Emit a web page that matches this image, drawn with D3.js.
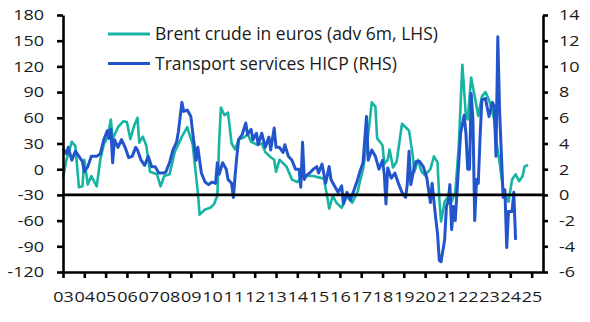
<!DOCTYPE html>
<html>
<head>
<meta charset="utf-8">
<script src="https://cdn.jsdelivr.net/npm/d3@7"></script>
<style>
  html, body { margin: 0; padding: 0; background: #fff; }
  svg { display: block; }
  text { font-family: "Open Sans", "Noto Sans", sans-serif; fill: #1a1a1a; }
</style>
</head>
<body>
<svg id="chart" width="590" height="322"></svg>
<script>
// Brent crude in euros, % y/y, advanced 6 months (left axis)
const brentMonths = ["2003-01","2003-03","2003-06","2003-08","2003-10","2003-12","2004-01","2004-03","2004-05","2004-08","2004-10","2004-12","2005-02","2005-04","2005-05","2005-08","2005-11","2006-01","2006-03","2006-05","2006-07","2006-08","2006-10","2006-12","2007-02","2007-06","2007-08","2007-10","2008-01","2008-04","2008-08","2008-11","2009-02","2009-05","2009-06","2009-09","2009-12","2010-02","2010-04","2010-05","2010-06","2010-08","2010-10","2010-12","2011-02","2011-04","2011-07","2011-09","2011-11","2012-02","2012-05","2012-07","2012-10","2012-12","2013-01","2013-03","2013-07","2013-10","2014-01","2014-04","2014-10","2015-04","2015-06","2015-07","2015-09","2015-11","2016-02","2016-05","2016-08","2016-11","2016-12","2017-02","2017-05","2017-07","2017-09","2017-10","2018-01","2018-02","2018-04","2018-05","2018-07","2018-09","2018-12","2019-02","2019-04","2019-06","2019-07","2019-09","2019-11","2020-01","2020-04","2020-06","2020-08","2020-09","2020-10","2020-12","2021-02","2021-04","2021-06","2021-08","2021-10","2021-12","2022-01","2022-03","2022-05","2022-07","2022-09","2022-11","2023-01","2023-04","2023-05","2023-07","2023-09","2023-11","2023-12","2024-02","2024-04","2024-06","2024-08","2024-09","2024-11"];
const brentValues = [-10,11,32,27,-21,-20,11,-18,-8,-20,11,29,37,58,35,49,56,55,35,50,60,31,38,27,-3,-6,-20,-8,-6,20,38,49,29,-27,-53,-47,-45,-41,-31,31,72,63,66,30,23,35,37,41,32,29,30,20,14,11,-3,11,3,-12,-15,-8,-8,-11,-33,-46,-31,-39,-45,-32,-39,-26,-17,0,41,78,73,36,28,6,11,23,2,9,53,49,45,17,-3,11,-3,-7,0,15,8,-35,-61,-38,-32,-38,-27,27,122,62,58,107,85,62,85,90,81,58,35,8,-24,-33,-38,-12,-6,-14,-8,3,5];

// Transport services HICP, % y/y (right axis)
const hicpMonths = ["2003-01","2003-03","2003-04","2003-06","2003-08","2003-10","2003-12","2004-01","2004-03","2004-05","2004-08","2004-10","2004-12","2005-02","2005-03","2005-04","2005-05","2005-06","2005-08","2005-10","2005-12","2006-01","2006-02","2006-04","2006-06","2006-07","2006-09","2006-11","2007-01","2007-03","2007-05","2007-07","2007-10","2007-11","2008-01","2008-03","2008-05","2008-06","2008-08","2008-09","2008-11","2009-01","2009-02","2009-04","2009-05","2009-07","2009-09","2009-11","2010-01","2010-03","2010-04","2010-05","2010-07","2010-09","2010-10","2010-12","2011-01","2011-02","2011-03","2011-04","2011-06","2011-08","2011-09","2011-11","2011-12","2012-02","2012-03","2012-05","2012-07","2012-09","2012-10","2012-12","2013-01","2013-03","2013-05","2013-06","2013-08","2013-10","2013-12","2014-02","2014-03","2014-04","2014-05","2014-06","2014-08","2014-10","2014-12","2015-01","2015-03","2015-05","2015-07","2015-08","2015-10","2015-12","2016-02","2016-03","2016-05","2016-07","2016-09","2016-11","2016-12","2017-02","2017-04","2017-05","2017-07","2017-09","2017-11","2018-01","2018-02","2018-03","2018-04","2018-06","2018-08","2018-10","2018-12","2019-02","2019-03","2019-04","2019-05","2019-07","2019-08","2019-10","2019-12","2020-02","2020-04","2020-05","2020-07","2020-08","2020-09","2020-10","2020-12","2021-01","2021-02","2021-03","2021-04","2021-05","2021-06","2021-07","2021-09","2021-11","2021-12","2022-01","2022-02","2022-03","2022-04","2022-05","2022-06","2022-07","2022-08","2022-09","2022-11","2023-01","2023-03","2023-04","2023-05","2023-06","2023-07","2023-09","2023-10","2023-11","2023-12","2024-02","2024-03","2024-04"];
const hicpValues = [3.6,3.2,3.7,2.7,3.4,3.0,2.6,1.8,2.2,3.0,3.0,3.2,4.3,5.0,4.4,5.1,2.5,4.3,3.7,4.3,3.7,3.3,2.9,3.0,3.7,3.5,2.7,2.3,3.0,2.2,2.2,1.7,1.7,1.8,2.5,3.5,4.1,4.9,7.2,6.5,6.6,6.1,4.9,2.7,3.7,1.7,1.0,0.8,1.0,0.9,2.5,1.6,2.5,2.0,1.2,0.9,-0.2,1.6,3.0,4.3,4.7,5.6,4.7,5.1,4.3,4.8,3.9,4.8,3.7,4.5,3.5,5.2,3.7,3.7,3.3,3.9,3.0,2.7,2.0,2.0,0.6,4.1,1.2,1.5,1.7,2.0,2.2,1.7,2.4,0.9,2.2,1.2,0.7,0.2,0.7,-0.7,0.2,-0.4,0.4,1.2,1.7,2.5,6.1,2.7,3.5,3.0,2.0,2.7,1.6,-0.7,2.1,1.3,1.7,0.9,0.2,-0.2,0.8,3.4,0.8,2.2,2.6,2.6,2.2,1.3,-0.6,0.9,-1.8,-3.0,-5.1,-5.2,-3.5,-0.9,-0.5,0.8,-2.7,-0.9,-2.0,0.2,4.8,6.2,4.8,2.0,2.0,7.9,5.8,-2.0,1.2,0.9,4.5,7.4,7.5,6.1,7.2,6.9,3.0,12.3,6.6,-0.2,0.4,-4.1,-1.3,-1.3,0.2,-3.5];

// Axis ticks
const leftTicks = [-120, -90, -60, -30, 0, 30, 60, 90, 120, 150, 180];
const rightTicks = [-6, -4, -2, 0, 2, 4, 6, 8, 10, 12, 14];
const yearTicks = d3.range(2003, 2026);

const seriesNames = ["Brent crude in euros (adv 6m, LHS)", "Transport services HICP (RHS)"];
const colors = { brent: "#17b4a3", hicp: "#2254cb" };

const parseMonth = d3.timeParse("%Y-%m");
const brent = brentMonths.map((m, i) => ({ date: parseMonth(m), value: brentValues[i] }));
const hicp = hicpMonths.map((m, i) => ({ date: parseMonth(m), value: hicpValues[i] }));

const plot = { left: 63, right: 543, top: 15, bottom: 272 };

const x = d3.scaleTime()
  .domain([new Date(2003, 0, 1), new Date(2025, 6, 15)])
  .range([plot.left, plot.right]);
const yL = d3.scaleLinear().domain([-120, 180]).range([plot.bottom, plot.top]);
const yR = d3.scaleLinear().domain([-6, 14]).range([plot.bottom, plot.top]);

const svg = d3.select("#chart");

// Series lines
const lineL = d3.line().x(d => x(d.date)).y(d => yL(d.value));
const lineR = d3.line().x(d => x(d.date)).y(d => yR(d.value));

svg.append("path").datum(brent)
  .attr("fill", "none").attr("stroke", colors.brent)
  .attr("stroke-width", 2.6).attr("stroke-linejoin", "round")
  .attr("d", lineL);

svg.append("path").datum(hicp)
  .attr("fill", "none").attr("stroke", colors.hicp)
  .attr("stroke-width", 3).attr("stroke-linejoin", "round")
  .attr("d", lineR);

// Zero line of the right-hand scale
svg.append("line")
  .attr("x1", plot.left).attr("x2", plot.right)
  .attr("y1", yR(0)).attr("y2", yR(0))
  .attr("stroke", "#000").attr("stroke-width", 2.8);

// Tick labels use a slightly widened face
const labelStretch = 1.2;
function styleAxis(g) {
  g.select(".domain").attr("stroke", "#000").attr("stroke-width", 2.6);
  g.selectAll(".tick line").attr("stroke", "#000").attr("stroke-width", 2.6);
  g.selectAll(".tick text")
    .attr("font-size", 15).attr("fill", "#1a1a1a")
    .attr("font-family", "'Open Sans', 'Noto Sans', sans-serif")
    .each(function () {
      const t = d3.select(this);
      const tx = +t.attr("x") || 0;
      t.attr("x", tx / labelStretch).attr("transform", `scale(${labelStretch},1)`);
    });
}

// Left axis
svg.append("g")
  .attr("transform", `translate(${plot.left},0)`)
  .call(d3.axisLeft(yL).tickValues(leftTicks).tickSize(6).tickSizeOuter(0).tickPadding(13)
    .tickFormat(d => String(d)))
  .call(styleAxis);

// Right axis
svg.append("g")
  .attr("transform", `translate(${plot.right},0)`)
  .call(d3.axisRight(yR).tickValues(rightTicks).tickSize(5).tickSizeOuter(0).tickPadding(11)
    .tickFormat(d => String(d)))
  .call(styleAxis);

// Bottom axis: two-digit years
const xAxis = svg.append("g")
  .attr("transform", `translate(0,${plot.bottom})`)
  .call(d3.axisBottom(x).tickValues(yearTicks.map(y => new Date(y, 0, 1)))
    .tickSize(6).tickSizeOuter(0).tickFormat(d3.timeFormat("%y")))
  .call(styleAxis);
xAxis.selectAll(".tick text").attr("y", 30).attr("dy", 0);

// Legend
const legend = svg.append("g");
[colors.brent, colors.hicp].forEach((c, i) => {
  const cy = 34 + i * 29.5;
  legend.append("line")
    .attr("x1", 108).attr("x2", 150).attr("y1", cy).attr("y2", cy)
    .attr("stroke", c).attr("stroke-width", 3);
  legend.append("text")
    .attr("x", 155).attr("y", cy + 6)
    .attr("font-size", 17.5)
    .text(seriesNames[i]);
});
</script>
</body>
</html>
